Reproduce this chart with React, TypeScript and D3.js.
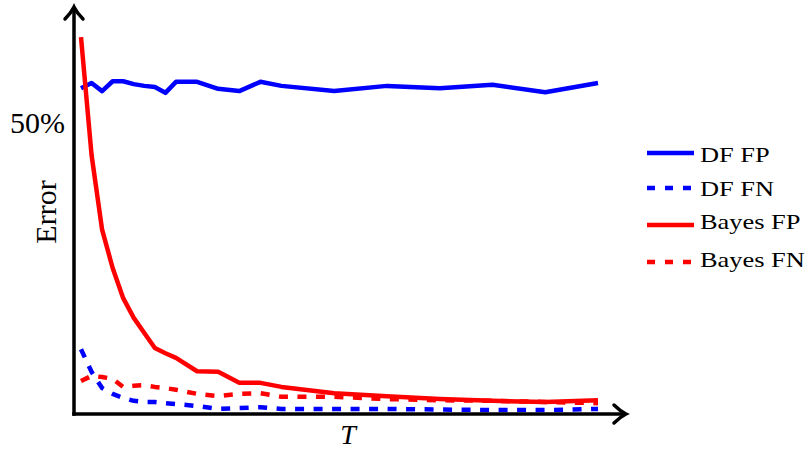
import React, { useEffect, useRef } from 'react';
import * as d3 from 'd3';

// number of trees T at each sample
const tValues = [1, 2, 3, 4, 5, 6, 7, 8, 9, 10, 12, 14, 16, 18, 20, 25, 30, 35, 40, 45, 50];

// error rates in percent
const dfFP = [56.0, 56.9, 55.5, 57.2, 57.2, 56.7, 56.4, 56.2, 55.2, 57.1, 57.1, 55.9, 55.5, 57.1, 56.4, 55.5, 56.4, 56.0, 56.6, 55.3, 56.9];
const dfFN = [11.0, 7.1, 4.3, 3.3, 2.6, 2.1, 1.9, 1.9, 1.7, 1.55, 1.2, 0.7, 0.85, 1.0, 0.7, 0.7, 0.7, 0.6, 0.5, 0.5, 0.7];
const bayesFP = [64.8, 44.5, 31.6, 25.0, 19.8, 16.4, 13.8, 11.2, 10.3, 9.5, 7.2, 7.1, 5.2, 5.2, 4.5, 3.4, 2.9, 2.4, 2.1, 1.9, 2.2];
const bayesFN = [5.5, 6.4, 6.2, 5.9, 4.5, 4.7, 4.8, 4.5, 4.3, 4.0, 3.3, 2.9, 3.3, 3.4, 2.8, 2.8, 2.4, 2.2, 2.1, 1.9, 1.7];

const seriesNames = ['DF FP', 'DF FN', 'Bayes FP', 'Bayes FN'];
const yTickValues = [50];

const App = () => {
  const ref = useRef<SVGSVGElement>(null);

  useEffect(() => {
    const width = 807;
    const height = 451;
    const svg = d3.select(ref.current);
    svg.selectAll('*').remove();
    svg.attr('width', width).attr('height', height);

    const x = d3.scaleLinear().domain([1, 50]).range([81, 598]);
    const y = d3.scaleLinear().domain([0, 50]).range([413, 123]);

    const series = [
      { name: seriesNames[0], values: dfFP, color: '#0000ff', dash: null },
      { name: seriesNames[1], values: dfFN, color: '#0000ff', dash: '9,9.5' },
      { name: seriesNames[2], values: bayesFP, color: '#ff0000', dash: null },
      { name: seriesNames[3], values: bayesFN, color: '#ff0000', dash: '9,9.5' }
    ];

    const line = d3
      .line<number>()
      .x((_, i) => x(tValues[i]))
      .y(d => y(d));

    series.forEach(s => {
      svg
        .append('path')
        .attr('d', line(s.values))
        .attr('fill', 'none')
        .attr('stroke', s.color)
        .attr('stroke-width', 4.5)
        .attr('stroke-linejoin', 'round')
        .attr('stroke-dasharray', s.dash);
    });

    // axes with arrows
    const ox = 74;
    const oy = 414;
    const axes = svg.append('g').attr('stroke', '#000').attr('stroke-width', 3.5).attr('fill', 'none');
    axes.append('line').attr('x1', ox).attr('y1', oy + 1.75).attr('x2', ox).attr('y2', 8);
    axes.append('line').attr('x1', ox - 1.75).attr('y1', oy).attr('x2', 624).attr('y2', oy);
    axes
      .append('path')
      .attr('d', `M${ox - 9},${19} Q${ox - 3},${13} ${ox},${7} Q${ox + 3},${13} ${ox + 9},${19}`)
      .attr('stroke-linecap', 'round');
    axes
      .append('path')
      .attr('d', `M${614},${oy - 9} Q${620},${oy - 3} ${626},${oy} Q${620},${oy + 3} ${614},${oy + 9}`)
      .attr('stroke-linecap', 'round');

    const font = 'Liberation Serif, DejaVu Serif, serif';

    svg
      .selectAll('text.ytick')
      .data(yTickValues)
      .join('text')
      .attr('class', 'ytick')
      .attr('x', 65)
      .attr('y', d => y(d) + 10)
      .attr('text-anchor', 'end')
      .attr('font-family', font)
      .attr('font-size', 30)
      .text(d => `${d}%`);

    svg
      .append('text')
      .attr('transform', 'translate(56,212) rotate(-90)')
      .attr('text-anchor', 'middle')
      .attr('font-family', font)
      .attr('font-size', 30)
      .text('Error');

    svg
      .append('text')
      .attr('x', 348)
      .attr('y', 444)
      .attr('text-anchor', 'middle')
      .attr('font-family', font)
      .attr('font-style', 'italic')
      .attr('font-size', 28)
      .text('T');

    // legend
    const legendY = [153, 188, 225, 262];
    const legendTextY = [162, 196, 229, 267];
    const legend = svg.append('g');
    series.forEach((s, i) => {
      legend
        .append('line')
        .attr('x1', 647)
        .attr('x2', 694)
        .attr('y1', legendY[i])
        .attr('y2', legendY[i])
        .attr('stroke', s.color)
        .attr('stroke-width', 4.5)
        .attr('stroke-dasharray', s.dash ? '8,10' : null);
      legend
        .append('text')
        .attr('transform', `translate(700,${legendTextY[i]}) scale(1.2,1)`)
        .attr('font-family', font)
        .attr('font-size', 22)
        .text(s.name);
    });
  }, []);

  return (
    <div style={{ position: 'absolute', left: 0, top: 0 }}>
      <svg ref={ref}></svg>
    </div>
  );
};

export default App;
